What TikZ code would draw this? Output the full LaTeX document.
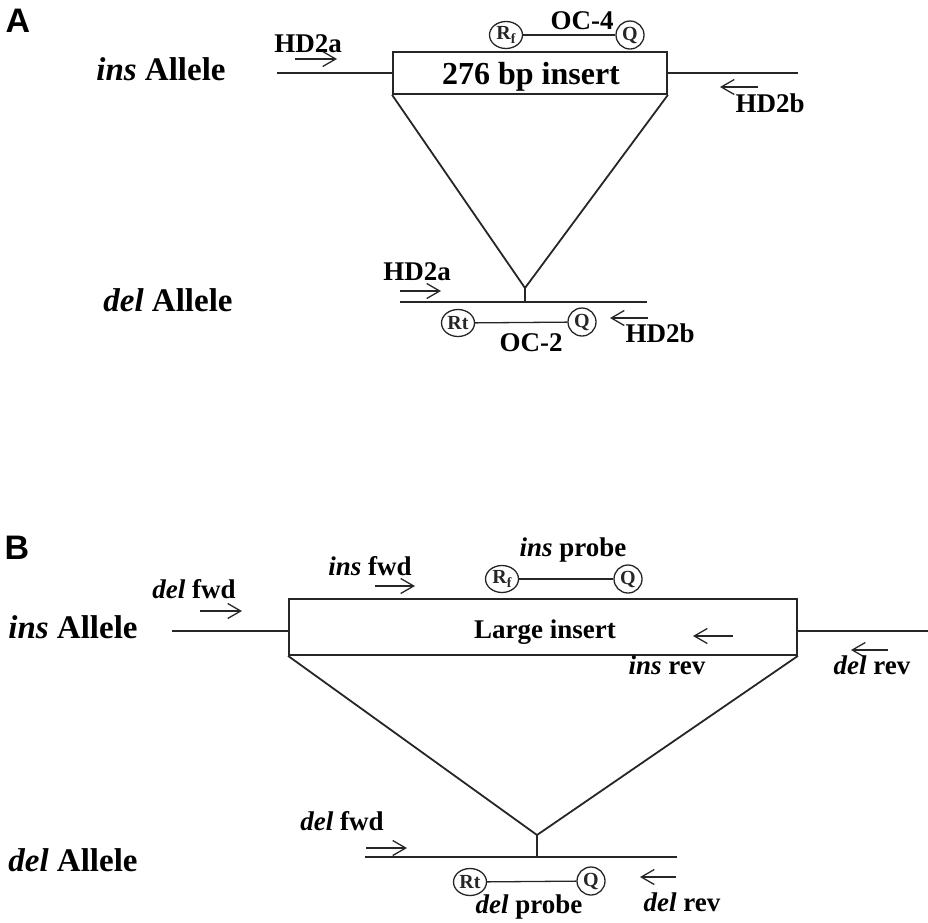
\documentclass[tikz,border=0pt]{standalone}
\usepackage{fontspec}
\setmainfont{Liberation Serif}
\setsansfont{Liberation Sans}
\usetikzlibrary{arrows.meta,shapes.geometric}
\begin{document}
\begin{tikzpicture}[x=1pt,y=-1pt,
  ln/.style={line width=1.8pt,black!85},
  thin/.style={line width=1.3pt,black!85},
  primer/.style={line width=1.3pt,black!85,-{Straight Barb[length=13pt,width=15pt,line width=1.3pt]}},
  panel/.style={font=\fontsize{34}{34}\selectfont\sffamily\bfseries,inner sep=0},
  allele/.style={font=\fontsize{33}{33}\selectfont\bfseries,inner sep=0,anchor=base},
  lbl/.style={font=\fontsize{27}{27}\selectfont\bfseries,inner sep=0,anchor=base},
  insbox/.style={draw,line width=1.8pt,black!85,inner sep=0},
  fluor/.style={draw,ellipse,line width=1.3pt,black!85,minimum width=33pt,minimum height=27pt,inner sep=0,font=\fontsize{20}{20}\selectfont\bfseries},
  quen/.style={draw,ellipse,line width=1.3pt,black!85,minimum width=28pt,minimum height=28pt,inner sep=0,font=\fontsize{20}{20}\selectfont\bfseries}
]
\useasboundingbox (0,0) rectangle (928,922);

% ---------------- Panel A ----------------
\node[panel] (pA) at (18,21) {A};
\node[allele] (insA) at (161,80) {\itshape ins\upshape{} Allele};
\node[allele] (delA) at (168,311) {\itshape del\upshape{} Allele};

\node[insbox,minimum width=274pt,minimum height=42pt] (boxA) at (530,73) {};
\node[font=\fontsize{32}{32}\selectfont\bfseries,inner sep=0,anchor=base] (boxAt) at (531,84) {276 bp insert};
\coordinate (aL) at (277,73);
\coordinate (aR) at (798,73);
\draw[ln] (aL) -- (boxA.west);
\draw[ln] (boxA.east) -- (aR);

\node[lbl] (hd2aT) at (308,52) {HD2a};
\coordinate (a1s) at (295,59); \coordinate (a1e) at (337,59);
\draw[primer] (a1s) -- (a1e);
\coordinate (a2s) at (758,87); \coordinate (a2e) at (720,87);
\draw[primer] (a2s) -- (a2e);
\node[lbl] (hd2bT) at (770,112) {HD2b};

\node[fluor] (rfA) at (506,35) {R\raisebox{-4pt}{\fontsize{14}{14}\selectfont f}};
\node[quen] (qA) at (630,35) {Q};
\draw[thin] (rfA) -- (qA);
\node[lbl] (oc4) at (582,29) {OC-4};

\coordinate (apexA) at (525,288);
\coordinate (stemA) at (525,302);
\draw[ln] (boxA.south west) -- (apexA) -- (boxA.south east);
\draw[ln] (apexA) -- (stemA);
\coordinate (dL) at (400,302);
\coordinate (dR) at (647,302);
\draw[ln] (dL) -- (dR);

\node[lbl] (hd2aT2) at (417,280) {HD2a};
\coordinate (a3s) at (400,291); \coordinate (a3e) at (441,291);
\draw[primer] (a3s) -- (a3e);
\node[fluor] (rtA) at (458,323) {Rt};
\node[quen] (qA2) at (582,322) {Q};
\draw[thin] (rtA) -- (qA2);
\node[lbl] (oc2) at (531,351) {OC-2};
\coordinate (a4s) at (648,318); \coordinate (a4e) at (610,318);
\draw[primer] (a4s) -- (a4e);
\node[lbl] (hd2bT2) at (660,342) {HD2b};

% ---------------- Panel B ----------------
\node[panel] (pB) at (17,548) {B};
\node[allele] (insB) at (73,638) {\itshape ins\upshape{} Allele};
\node[allele] (delB) at (73,871) {\itshape del\upshape{} Allele};

\node[insbox,minimum width=508pt,minimum height=56pt] (boxB) at (543,627) {};
\node[font=\fontsize{27}{27}\selectfont\bfseries,inner sep=0,anchor=base] (boxBt) at (545,638) {Large insert};
\coordinate (bL) at (172,631);
\coordinate (bR) at (928,631);
\draw[ln] (bL) -- (boxB.west |- bL);
\draw[ln] (boxB.east |- bR) -- (bR);

\node[lbl] (dfT) at (194,598) {\itshape del\upshape{} fwd};
\coordinate (b1s) at (200,611); \coordinate (b1e) at (242,611);
\draw[primer] (b1s) -- (b1e);
\node[lbl] (ifT) at (370,575) {\itshape ins\upshape{} fwd};
\coordinate (b2s) at (375,586); \coordinate (b2e) at (415,586);
\draw[primer] (b2s) -- (b2e);
\node[lbl] (ipT) at (573,556) {\itshape ins\upshape{} probe};
\node[fluor] (rfB) at (502,579) {R\raisebox{-4pt}{\fontsize{14}{14}\selectfont f}};
\node[quen] (qB) at (628,579) {Q};
\draw[thin] (rfB) -- (qB);
\coordinate (b3s) at (733,636); \coordinate (b3e) at (693,636);
\draw[primer] (b3s) -- (b3e);
\node[lbl] (irT) at (667,674) {\itshape ins\upshape{} rev};
\coordinate (b4s) at (888,650); \coordinate (b4e) at (851,650);
\draw[primer] (b4s) -- (b4e);
\node[lbl] (drT) at (872,674) {\itshape del\upshape{} rev};

\coordinate (apexB) at (537,835);
\coordinate (stemB) at (537,857);
\draw[ln] (boxB.south west) -- (apexB) -- (boxB.south east);
\draw[ln] (apexB) -- (stemB);
\coordinate (eL) at (365,857);
\coordinate (eR) at (677,857);
\draw[ln] (eL) -- (eR);

\node[lbl] (dfT2) at (342,830) {\itshape del\upshape{} fwd};
\coordinate (b5s) at (366,848); \coordinate (b5e) at (407,848);
\draw[primer] (b5s) -- (b5e);
\node[fluor] (rtB) at (470,882) {Rt};
\node[quen] (qB2) at (591,881) {Q};
\draw[thin] (rtB) -- (qB2);
\node[lbl] (dpT) at (529,913) {\itshape del\upshape{} probe};
\coordinate (b6s) at (676,877); \coordinate (b6e) at (640,877);
\draw[primer] (b6s) -- (b6e);
\node[lbl] (drT2) at (682,911) {\itshape del\upshape{} rev};
\end{tikzpicture}
\end{document}
